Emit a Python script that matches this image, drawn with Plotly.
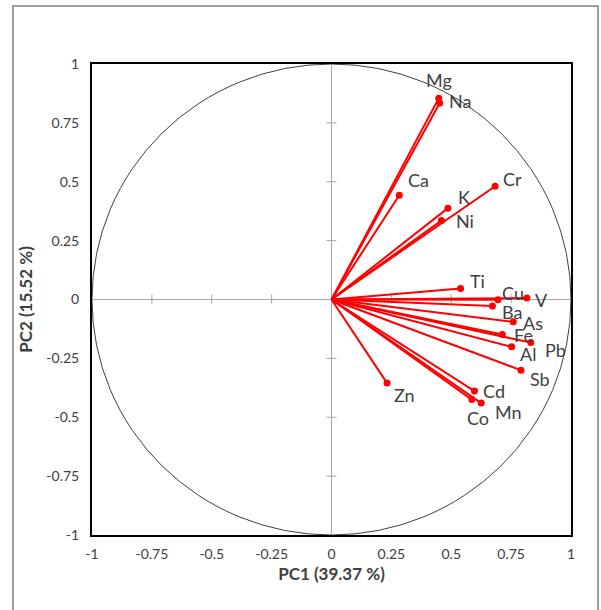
import plotly.graph_objects as go

variables = ["Mg", "Na", "Ca", "Cr", "K", "Ni", "Ti", "Cu", "V", "Ba", "As", "Fe",
             "Pb", "Al", "Sb", "Zn", "Cd", "Co", "Mn"]
pc1 = [0.448, 0.452, 0.283, 0.683, 0.486, 0.459, 0.539, 0.695, 0.816, 0.672, 0.759, 0.713,
       0.832, 0.752, 0.791, 0.232, 0.597, 0.586, 0.625]
pc2 = [0.855, 0.834, 0.443, 0.481, 0.388, 0.335, 0.047, -0.001, 0.006, -0.028, -0.095, -0.149,
       -0.183, -0.201, -0.300, -0.355, -0.389, -0.425, -0.440]
tick_vals = [-1, -0.75, -0.5, -0.25, 0, 0.25, 0.5, 0.75, 1]
tick_text = ["-1", "-0.75", "-0.5", "-0.25", "0", "0.25", "0.5", "0.75", "1"]

# label offsets in pixels (dx right, dy down) relative to the point, plus anchor
label_off = {
    "Mg": (0, -18, "center"), "Na": (7, -2, "left"), "Ca": (7, -15, "left"),
    "Cr": (6, -7, "left"), "K": (8, -11, "left"), "Ni": (13, 0, "left"),
    "Ti": (7, -7, "left"), "Cu": (2, -7, "left"), "V": (6, 2, "left"),
    "Ba": (8, 6, "left"), "As": (8, 1, "left"), "Fe": (10, 0, "left"),
    "Pb": (12, 7, "left"), "Al": (6, 7, "left"), "Sb": (7, 9, "left"),
    "Zn": (5, 12, "left"), "Cd": (7, 0, "left"), "Co": (6, 18, "center"),
    "Mn": (12, 9, "left"),
}

FONT = "Lato"
RED = "#ff0000"
TXT = "#404040"

lx, ly = [], []
for x, y in zip(pc1, pc2):
    lx += [0, x, None]
    ly += [0, y, None]

fig = go.Figure()
fig.add_trace(go.Scatter(x=lx, y=ly, mode="lines", line=dict(color=RED, width=2),
                         hoverinfo="skip", showlegend=False))
fig.add_trace(go.Scatter(x=pc1, y=pc2, mode="markers", text=variables,
                         marker=dict(color=RED, size=7), showlegend=False))

annotations = []
for v, x, y in zip(variables, pc1, pc2):
    dx, dy, anc = label_off[v]
    annotations.append(dict(x=x, y=y, xref="x", yref="y", text=v, showarrow=False,
                            xanchor=anc, yanchor="middle", xshift=dx, yshift=-dy,
                            font=dict(family=FONT, size=18, color=TXT)))

shapes = [dict(type="circle", xref="x", yref="y", x0=-1, y0=-1, x1=1, y1=1,
               line=dict(color="#404040", width=1), layer="below")]
for t in tick_vals:
    if t in (-1, 0, 1):
        continue
    shapes.append(dict(type="line", xref="x", yref="y", ysizemode="pixel", yanchor=0,
                       x0=t, x1=t, y0=-4, y1=5, line=dict(color="#a6a6a6", width=1), layer="below"))
    shapes.append(dict(type="line", xref="x", yref="y", xsizemode="pixel", xanchor=0,
                       y0=t, y1=t, x0=-5, x1=5, line=dict(color="#a6a6a6", width=1), layer="below"))
shapes.append(dict(type="rect", xref="paper", yref="paper", x0=-0.165, x1=1.0564, y0=-0.2, y1=1.1231,
                   line=dict(color="#808080", width=1.5)))

axis_common = dict(range=[-1, 1], tickvals=tick_vals, ticktext=tick_text, showgrid=False,
                   zeroline=True, zerolinecolor="#a6a6a6", zerolinewidth=1,
                   showline=True, linecolor="black", linewidth=2, mirror=True, ticks="",
                   tickfont=dict(family=FONT, size=14, color=TXT))

fig.update_layout(
    width=601, height=610,
    margin=dict(l=92, r=30, t=64, b=75),
    paper_bgcolor="white", plot_bgcolor="white",
    font=dict(family=FONT),
    xaxis=dict(**axis_common, ticklabelstandoff=5,
               title=dict(text="<b>PC1 (39.37 %)</b>", standoff=7,
                          font=dict(family=FONT, size=17, color=TXT))),
    yaxis=dict(**axis_common, ticklabelstandoff=8,
               title=dict(text="<b>PC2 (15.52 %)</b>", standoff=9,
                          font=dict(family=FONT, size=17, color=TXT))),
    shapes=shapes,
    annotations=annotations,
)

fig.write_html("out.html", config={"displayModeBar": False},
               post_script="document.body.style.margin='0';document.body.style.overflow='hidden';")
